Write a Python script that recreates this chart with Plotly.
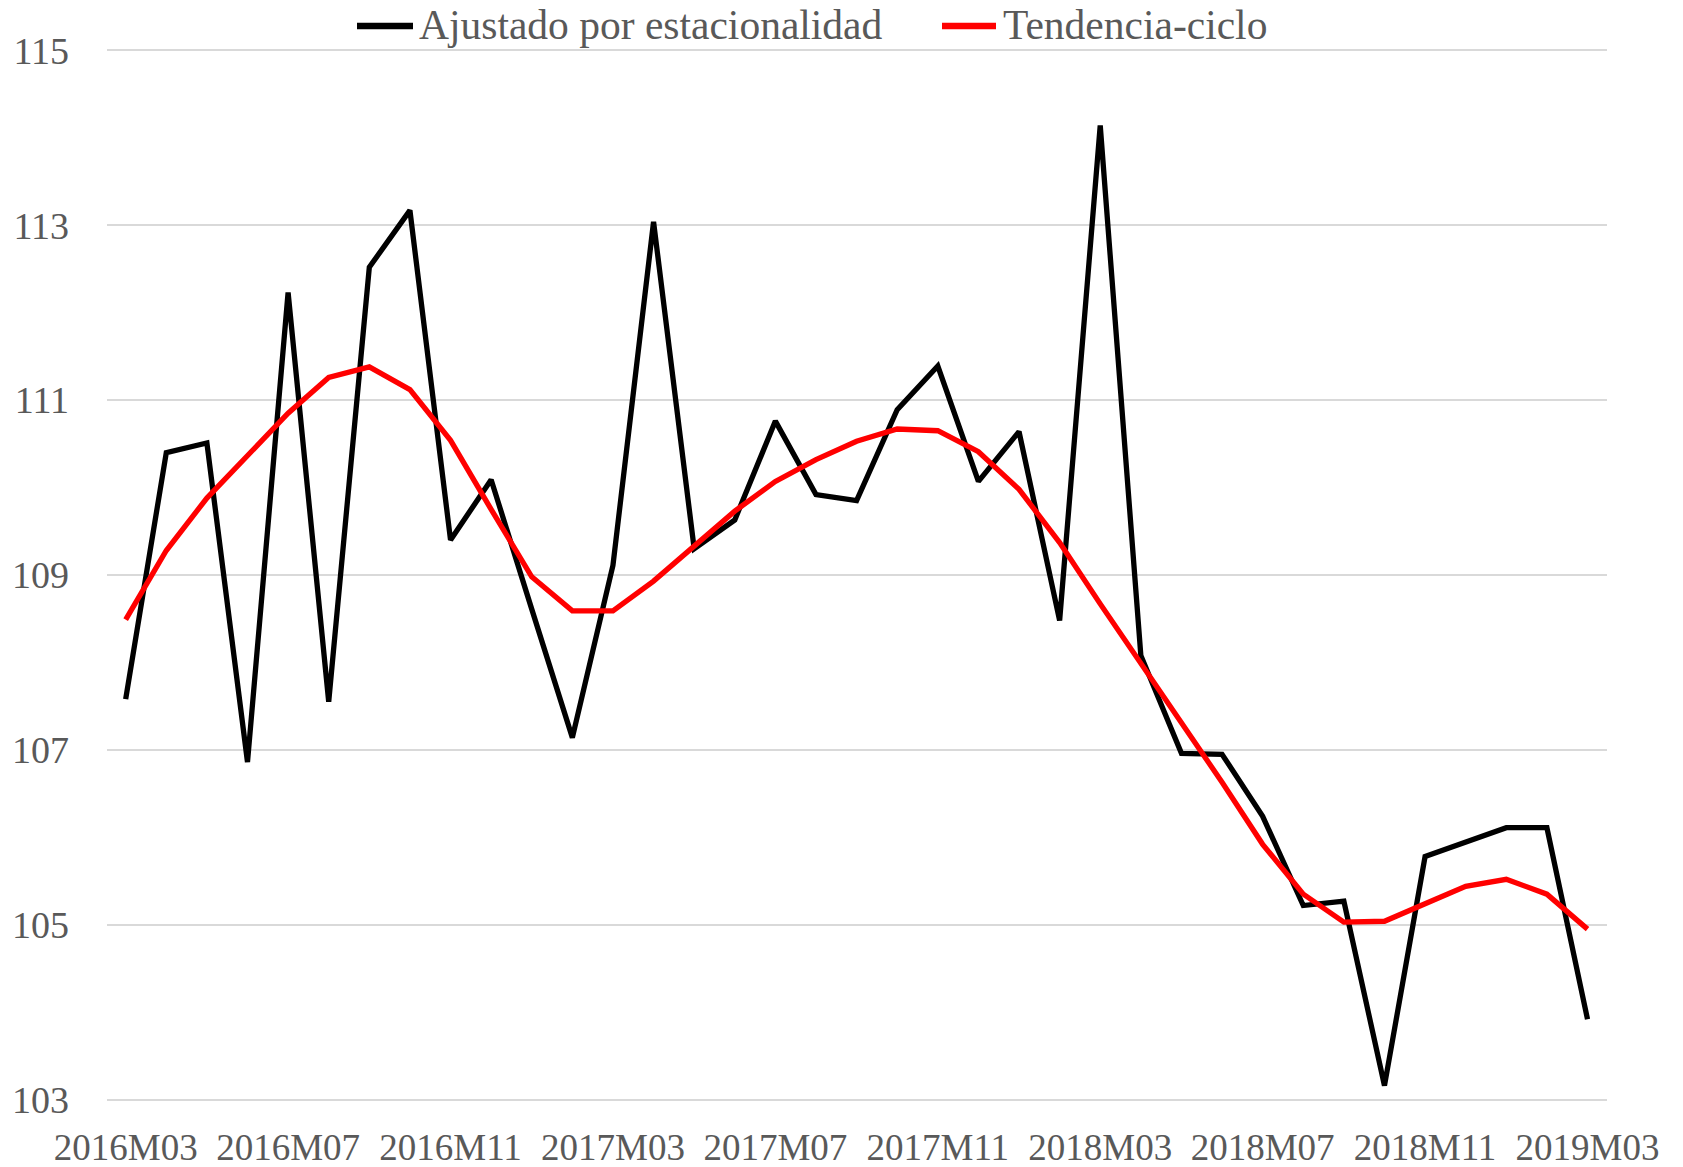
import plotly.graph_objects as go

months = []
for y in range(2016, 2020):
    for m in range(1, 13):
        if (y == 2016 and m < 3) or (y == 2019 and m > 3):
            continue
        months.append(f"{y}M{m:02d}")

ajustado = [107.58, 110.40, 110.51, 106.86, 112.23, 107.55, 112.52, 113.17, 109.40, 110.09,
            108.61, 107.14, 109.11, 113.04, 109.30, 109.63, 110.76, 109.92, 109.85, 110.89,
            111.39, 110.07, 110.64, 108.48, 114.14, 108.08, 106.96, 106.95, 106.24, 105.22,
            105.27, 103.16, 105.78, 105.95, 106.11, 106.11, 103.92]

tendencia = [108.49, 109.28, 109.88, 110.36, 110.85, 111.26, 111.38, 111.12, 110.54, 109.75,
             108.98, 108.59, 108.59, 108.93, 109.33, 109.73, 110.07, 110.32, 110.53, 110.67,
             110.65, 110.41, 109.98, 109.37, 108.67, 107.99, 107.31, 106.63, 105.92, 105.35,
             105.03, 105.04, 105.24, 105.44, 105.52, 105.35, 104.95]

series_names = ["Ajustado por estacionalidad", "Tendencia-ciclo"]
series_colors = ["#000000", "#ff0000"]

tick_labels = ["2016M03", "2016M07", "2016M11", "2017M03", "2017M07",
               "2017M11", "2018M03", "2018M07", "2018M11", "2019M03"]
y_ticks = [103, 105, 107, 109, 111, 113, 115]

FONT = "Liberation Serif"
GRAY = "#595959"
W, H = 1683, 1167
ML, MR, MT, MB = 107, 76, 46, 62.6

fig = go.Figure()
for name, vals, col in zip(series_names, [ajustado, tendencia], series_colors):
    fig.add_trace(go.Scatter(x=months, y=vals, mode="lines", name=name,
                             line=dict(color=col, width=5.3), showlegend=False))

# manual legend (long line symbols as in the reference)
pw = W - ML - MR
ph = H - MT - MB
def px(xp):
    return (xp - ML) / pw
def py(yp):
    return (H - MB - yp) / ph

legend_items = [(357, 413, 417), (942, 996, 1001)]
for (x0, x1, xt), name, col in zip(legend_items, series_names, series_colors):
    fig.add_shape(type="line", xref="paper", yref="paper", x0=px(x0), x1=px(x1),
                  y0=py(26), y1=py(26), line=dict(color=col, width=6.5))
    fig.add_annotation(xref="paper", yref="paper", x=px(xt), y=py(25), xanchor="left",
                       yanchor="middle", text=name, showarrow=False,
                       font=dict(family=FONT, size=41.5, color=GRAY))

fig.update_layout(
    width=W, height=H,
    paper_bgcolor="white", plot_bgcolor="white",
    margin=dict(l=ML, r=MR, t=MT, b=MB, autoexpand=False),
    font=dict(family=FONT, color=GRAY, size=37),
    showlegend=False,
)
fig.update_xaxes(type="category", tickmode="array", tickvals=tick_labels, ticktext=tick_labels,
                 range=[-0.46, 36.48], showgrid=False, showline=False, zeroline=False,
                 ticks="", tickfont=dict(family=FONT, size=37, color=GRAY),
                 ticklabelstandoff=18, automargin=False)
fig.update_yaxes(range=[102.95, 115.05], tickmode="array", tickvals=y_ticks,
                 showgrid=True, gridcolor="#d9d9d9", gridwidth=2, zeroline=False,
                 showline=False, ticks="", tickfont=dict(family=FONT, size=38, color=GRAY),
                 ticklabelstandoff=37, automargin=False)

fig.write_html("out.html", config={"displayModeBar": False},
               post_script="document.body.style.margin='0px';")
